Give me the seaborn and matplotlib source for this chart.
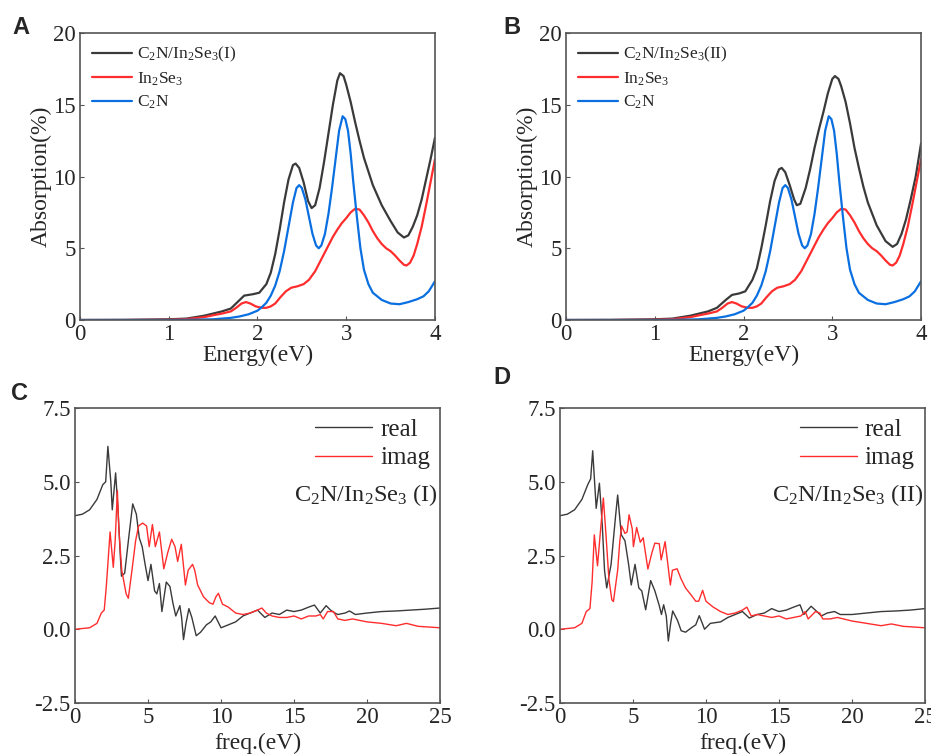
import numpy as np
import pandas as pd
import matplotlib
matplotlib.use("Agg")
import matplotlib.pyplot as plt
import seaborn as sns

# ---- absorption spectra (panels A and B) ----
energy_het1 = [0.0, 0.5, 1.0, 1.2, 1.4, 1.5, 1.6, 1.7, 1.8, 1.85, 1.95, 2.02, 2.1, 2.15, 2.2, 2.25,
               2.3, 2.35, 2.4, 2.43, 2.47, 2.52, 2.57, 2.61, 2.65, 2.7, 2.75, 2.8, 2.85, 2.9, 2.93,
               2.97, 3.0, 3.05, 3.1, 3.15, 3.2, 3.3, 3.4, 3.5, 3.58, 3.65, 3.7, 3.75, 3.8, 3.85,
               3.9, 3.95, 4.0]
absorb_het1 = [0.0, 0.01, 0.05, 0.1, 0.3, 0.45, 0.6, 0.8, 1.4, 1.7, 1.8, 1.9, 2.5, 3.3, 4.6, 6.3,
               8.2, 9.8, 10.8, 10.9, 10.6, 9.6, 8.3, 7.8, 8.0, 9.2, 11.0, 13.0, 15.0, 16.7, 17.2,
               17.0, 16.4, 15.2, 13.8, 12.5, 11.3, 9.4, 8.0, 6.9, 6.1, 5.75, 5.9, 6.5, 7.3, 8.4,
               9.8, 11.2, 12.7]

energy_het2 = [0.0, 0.5, 1.0, 1.2, 1.4, 1.5, 1.6, 1.7, 1.8, 1.87, 1.95, 2.02, 2.1, 2.15, 2.2, 2.25,
               2.3, 2.35, 2.4, 2.43, 2.47, 2.52, 2.57, 2.6, 2.64, 2.7, 2.75, 2.8, 2.85, 2.9, 2.95,
               3.0, 3.03, 3.07, 3.1, 3.15, 3.2, 3.25, 3.3, 3.35, 3.4, 3.5, 3.6, 3.68, 3.73, 3.78,
               3.83, 3.88, 3.94, 4.0]
absorb_het2 = [0.0, 0.01, 0.05, 0.1, 0.3, 0.45, 0.6, 0.85, 1.4, 1.75, 1.85, 2.0, 2.8, 3.6, 5.0, 6.6,
               8.3, 9.7, 10.5, 10.6, 10.3, 9.4, 8.4, 8.0, 8.1, 9.2, 10.5, 12.0, 13.3, 14.5, 15.8,
               16.8, 17.0, 16.8, 16.3, 15.2, 13.7, 12.0, 10.6, 9.3, 8.2, 6.6, 5.5, 5.1, 5.3, 6.0,
               7.0, 8.3, 10.0, 12.3]

energy_in2se3 = [0.0, 0.5, 1.0, 1.2, 1.4, 1.5, 1.6, 1.7, 1.76, 1.82, 1.87, 1.92, 1.98, 2.05, 2.1,
                 2.15, 2.2, 2.26, 2.32, 2.38, 2.45, 2.52, 2.58, 2.65, 2.7, 2.75, 2.8, 2.85, 2.9,
                 2.95, 3.0, 3.05, 3.1, 3.15, 3.2, 3.25, 3.3, 3.35, 3.4, 3.45, 3.5, 3.55, 3.6, 3.65,
                 3.68, 3.72, 3.76, 3.8, 3.85, 3.9, 3.95, 4.0]
absorb_in2se3 = [0.0, 0.0, 0.02, 0.06, 0.2, 0.33, 0.45, 0.6, 0.85, 1.15, 1.25, 1.15, 0.95, 0.85, 0.85,
                 0.95, 1.15, 1.6, 2.0, 2.25, 2.35, 2.5, 2.8, 3.4, 4.0, 4.6, 5.2, 5.8, 6.3,
                 6.75, 7.1, 7.5, 7.75, 7.7, 7.3, 6.8, 6.2, 5.7, 5.3, 5.0, 4.8, 4.5, 4.15, 3.85,
                 3.8, 4.0, 4.5, 5.3, 6.5, 8.0, 9.6, 11.2]

energy_c2n = [0.0, 0.5, 1.0, 1.3, 1.5, 1.7, 1.8, 1.9, 2.0, 2.05, 2.1, 2.15, 2.2, 2.25, 2.3, 2.35,
              2.4, 2.44, 2.47, 2.5, 2.54, 2.58, 2.62, 2.66, 2.69, 2.72, 2.76, 2.8, 2.84, 2.88,
              2.92, 2.96, 2.99, 3.02, 3.05, 3.08, 3.12, 3.16, 3.2, 3.25, 3.3, 3.4, 3.5, 3.6, 3.7,
              3.8, 3.87, 3.93, 4.0]
absorb_c2n = [0.0, 0.0, 0.0, 0.02, 0.05, 0.15, 0.25, 0.4, 0.65, 0.9, 1.2, 1.7, 2.4, 3.4, 4.8, 6.5,
              8.2, 9.2, 9.4, 9.2, 8.4, 7.2, 6.0, 5.2, 5.0, 5.2, 6.0, 7.4, 9.2, 11.2,
              13.2, 14.2, 14.0, 13.2, 11.6, 9.6, 7.2, 5.0, 3.5, 2.5, 1.9, 1.4, 1.15, 1.1, 1.25,
              1.45, 1.65, 2.0, 2.7]

# ---- dielectric function (panels C and D) ----
freq_real1 = [0.0, 0.5, 1.0, 1.5, 1.9, 2.1, 2.25, 2.45, 2.55, 2.78, 2.95, 3.1, 3.18, 3.4, 3.7, 3.95,
              4.2, 4.4, 4.6, 4.8, 5.0, 5.2, 5.45, 5.6, 5.78, 5.95, 6.25, 6.5, 6.7, 6.9, 7.18, 7.3,
              7.43, 7.6, 7.8, 8.0, 8.3, 8.6, 9.0, 9.3, 9.6, 9.8, 10.0, 10.5, 11.0, 11.5, 12.0, 12.5,
              13.0, 13.5, 14.0, 14.5, 15.0, 15.5, 16.0, 16.4, 16.8, 17.2, 17.5, 17.8, 18.0, 18.5,
              18.8, 19.2, 20.0, 21.0, 22.0, 23.0, 24.0, 25.0]
eps_real1 = [3.85, 3.9, 4.05, 4.4, 4.9, 5.0, 6.2, 5.0, 4.05, 5.3, 4.0, 2.5, 1.8, 1.9, 3.2, 4.25,
             3.9, 3.1, 2.8, 2.2, 1.65, 2.2, 1.3, 1.2, 1.55, 0.6, 1.6, 1.45, 0.9, 0.45, 0.8, 0.4,
             -0.35, 0.2, 0.7, 0.4, -0.22, -0.1, 0.15, 0.25, 0.45, 0.25, 0.05, 0.15, 0.25, 0.45, 0.55, 0.65,
             0.4, 0.55, 0.5, 0.65, 0.6, 0.65, 0.75, 0.82, 0.55, 0.8, 0.65, 0.55, 0.5, 0.55,
             0.62, 0.5, 0.55, 0.6, 0.62, 0.65, 0.68, 0.72]

freq_imag1 = [0.0, 1.0, 1.5, 1.8, 2.0, 2.15, 2.4, 2.62, 2.75, 2.9, 3.0, 3.2, 3.5, 3.65, 3.9, 4.15,
              4.35, 4.63, 4.9, 5.08, 5.3, 5.5, 5.78, 6.08, 6.35, 6.62, 6.85, 7.03, 7.28, 7.56, 7.75,
              8.05, 8.2, 8.4, 8.8, 9.2, 9.45, 9.65, 9.82, 10.1, 10.5, 11.0, 11.5, 12.0, 12.5, 12.8,
              13.1, 13.5, 14.0, 14.5, 15.0, 15.5, 16.0, 16.5, 16.8, 17.0, 17.3, 17.7, 18.0, 18.5,
              19.0, 20.0, 21.0, 22.0, 22.7, 23.5, 25.0]
eps_imag1 = [0.0, 0.05, 0.2, 0.55, 0.65, 1.5, 3.3, 2.1, 3.0, 4.7, 3.4, 2.0, 1.2, 1.05, 2.0, 3.0,
             3.5, 3.6, 3.5, 2.8, 3.55, 2.8, 3.3, 2.05, 2.6, 3.05, 2.8, 2.3, 2.88, 1.5, 2.0,
             2.2, 2.0, 1.5, 1.1, 0.9, 0.85, 1.1, 1.22, 0.85, 0.75, 0.55, 0.5, 0.55, 0.65, 0.72,
             0.55, 0.45, 0.4, 0.4, 0.45, 0.35, 0.45, 0.45, 0.5, 0.35, 0.6, 0.6, 0.35, 0.3,
             0.35, 0.25, 0.2, 0.12, 0.2, 0.1, 0.05]

freq_real2 = [0.0, 0.5, 1.0, 1.5, 1.9, 2.1, 2.24, 2.48, 2.7, 2.9, 3.05, 3.2, 3.5, 3.8, 3.95, 4.2,
              4.45, 4.7, 4.88, 5.14, 5.4, 5.6, 5.87, 6.21, 6.5, 6.8, 6.95, 7.1, 7.28, 7.42, 7.58,
              7.72, 8.05, 8.3, 8.6, 9.0, 9.3, 9.54, 9.75, 9.9, 10.3, 11.0, 11.5, 12.0, 12.5, 12.97,
              13.5, 14.0, 14.5, 15.0, 15.5, 16.0, 16.44, 16.7, 17.2, 17.6, 17.9, 18.3, 18.8, 19.2,
              20.0, 21.0, 22.0, 23.0, 24.0, 25.0]
eps_real2 = [3.85, 3.9, 4.05, 4.4, 4.9, 5.1, 6.05, 4.1, 4.95, 3.5, 2.0, 1.4, 2.2, 3.8, 4.55, 3.2,
             3.0, 2.2, 1.5, 2.2, 1.4, 1.3, 0.66, 1.65, 1.3, 0.8, 0.5, 0.83, 0.45, -0.4, 0.2,
             0.62, 0.3, -0.05, -0.1, 0.05, 0.15, 0.46, 0.2, 0.0, 0.2, 0.25, 0.4, 0.5, 0.6, 0.38,
             0.5, 0.55, 0.7, 0.6, 0.65, 0.75, 0.83, 0.5, 0.78, 0.6, 0.45, 0.55, 0.6, 0.5,
             0.5, 0.55, 0.6, 0.62, 0.65, 0.7]

freq_imag2 = [0.0, 1.0, 1.5, 1.8, 2.05, 2.2, 2.35, 2.57, 2.75, 2.97, 3.15, 3.35, 3.55, 3.66, 3.95,
              4.1, 4.22, 4.45, 4.6, 4.73, 4.95, 5.03, 5.25, 5.5, 5.7, 5.85, 6.02, 6.3, 6.5, 6.8,
              6.93, 7.2, 7.56, 7.7, 8.02, 8.3, 8.6, 9.0, 9.3, 9.5, 9.77, 10.0, 10.5, 11.0, 11.5,
              12.0, 12.5, 12.8, 13.1, 13.5, 14.0, 14.5, 15.0, 15.5, 16.0, 16.5, 16.8, 17.0, 17.5,
              17.8, 18.0, 18.5, 19.0, 20.0, 21.0, 22.0, 22.7, 23.5, 25.0]
eps_imag2 = [0.0, 0.05, 0.2, 0.6, 0.7, 1.6, 3.2, 2.15, 3.2, 4.45, 3.2, 1.7, 1.0, 0.94, 2.0,
             3.0, 3.5, 3.25, 3.3, 3.88, 3.4, 2.8, 3.45, 2.95, 3.1, 2.6, 2.04, 2.6, 2.92, 2.9,
             2.35, 2.97, 1.5, 2.0, 2.05, 1.7, 1.4, 1.15, 0.95, 0.95, 1.32, 0.95, 0.75, 0.6, 0.5,
             0.55, 0.65, 0.75, 0.45, 0.5, 0.45, 0.4, 0.45, 0.35, 0.4, 0.45, 0.6, 0.35, 0.6,
             0.55, 0.35, 0.35, 0.4, 0.28, 0.2, 0.12, 0.18, 0.1, 0.05]

abs_labels = [r"C$_{2}$N/In$_{2}$Se$_{3}$(I)", r"C$_{2}$N/In$_{2}$Se$_{3}$(II)",
              r"In$_{2}$Se$_{3}$", r"C$_{2}$N"]
diel_tags = [r"C$_{2}$N/In$_{2}$Se$_{3}$ (I)", r"C$_{2}$N/In$_{2}$Se$_{3}$ (II)"]

sns.set_theme(style="ticks")
plt.rcParams["font.family"] = ["Liberation Serif", "DejaVu Serif"]
plt.rcParams["mathtext.fontset"] = "custom"
plt.rcParams["mathtext.rm"] = "Liberation Serif"
plt.rcParams["mathtext.it"] = "Liberation Serif:italic"
plt.rcParams["axes.unicode_minus"] = False
plt.rcParams["xtick.direction"] = "in"
plt.rcParams["ytick.direction"] = "in"

black = "#3a3a3a"
red = "#ff2d2d"
blue = "#0a6fe0"
spine_col = "#555555"

fig = plt.figure(figsize=(9.31, 7.56), dpi=100)
axA = fig.add_axes([0.0859, 0.5767, 0.3813, 0.3796])
axB = fig.add_axes([0.6080, 0.5767, 0.3813, 0.3796])
axC = fig.add_axes([0.0806, 0.0701, 0.3920, 0.3902])
axD = fig.add_axes([0.6015, 0.0701, 0.3920, 0.3902])


def style_axes(ax):
    for s in ax.spines.values():
        s.set_color(spine_col)
        s.set_linewidth(1.2)
    ax.tick_params(length=3, width=0.8, color=spine_col, labelsize=16.5, pad=3,
                   top=False, right=False)


# absorption panels
for ax, ex, ay, lab in [(axA, energy_het1, absorb_het1, abs_labels[0]),
                        (axB, energy_het2, absorb_het2, abs_labels[1])]:
    sns.lineplot(x=ex, y=ay, ax=ax, color=black, linewidth=1.6, label=lab)
    sns.lineplot(x=energy_in2se3, y=absorb_in2se3, ax=ax, color=red, linewidth=1.6, label=abs_labels[2])
    sns.lineplot(x=energy_c2n, y=absorb_c2n, ax=ax, color=blue, linewidth=1.6, label=abs_labels[3])
    ax.set_xlim(0, 4)
    ax.set_ylim(0, 20)
    ax.set_xticks([0, 1, 2, 3, 4])
    ax.set_yticks([0, 5, 10, 15, 20])
    ax.set_xlabel("Energy(eV)", fontsize=17, labelpad=0)
    ax.set_ylabel("Absorption(%)", fontsize=17, labelpad=1)
    style_axes(ax)
    ax.legend(loc="upper left", frameon=False, fontsize=12.5, handlelength=2.3,
              handletextpad=0.3, labelspacing=0.35, borderaxespad=0.3,
              bbox_to_anchor=(0.0, 1.0))

# dielectric panels
for ax, fr, er, fi, ei, tag in [(axC, freq_real1, eps_real1, freq_imag1, eps_imag1, diel_tags[0]),
                                (axD, freq_real2, eps_real2, freq_imag2, eps_imag2, diel_tags[1])]:
    sns.lineplot(x=fr, y=er, ax=ax, color=black, linewidth=1.0, label="real")
    sns.lineplot(x=fi, y=ei, ax=ax, color=red, linewidth=1.0, label="imag")
    ax.set_xlim(0, 25)
    ax.set_ylim(-2.5, 7.5)
    ax.set_xticks([0, 5, 10, 15, 20, 25])
    ax.set_yticks([-2.5, 0.0, 2.5, 5.0, 7.5])
    ax.set_yticklabels([f"{v:.1f}" for v in [-2.5, 0.0, 2.5, 5.0, 7.5]])
    ax.set_xlabel("freq.(eV)", fontsize=17, labelpad=3)
    ax.set_ylabel("")
    style_axes(ax)
    ax.legend(loc="upper right", frameon=False, fontsize=18, handlelength=2.3,
              handletextpad=0.3, labelspacing=0.25, borderaxespad=0.0,
              bbox_to_anchor=(1.0, 1.0))
    ax.text(0.995, 0.705, tag, transform=ax.transAxes, ha="right", va="center", fontsize=17.5)

# panel letters
for lx, ly, letter in [(21, 27, "A"), (512, 27, "B"), (20, 393, "C"), (502, 378, "D")]:
    fig.text(lx / 931, 1 - ly / 756, letter, fontsize=17, fontweight="bold",
             family="Liberation Sans", ha="center", va="center")

fig.savefig("out.png", dpi=100)
